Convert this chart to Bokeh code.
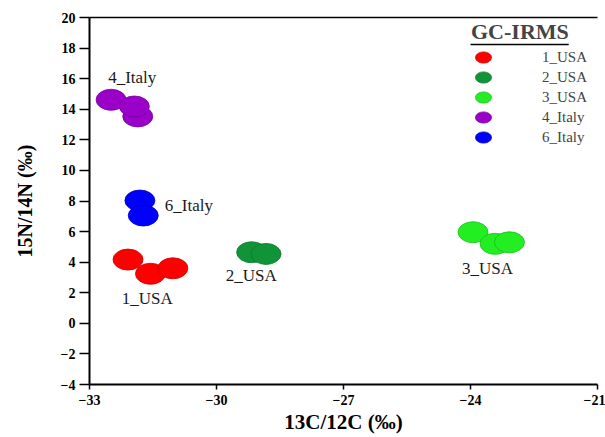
from bokeh.plotting import figure
from bokeh.models import (ColumnDataSource, Legend, LegendItem, LinearAxis,
                          FixedTicker, BoxAnnotation)
from bokeh.core.properties import value
from bokeh.embed import file_html
from bokeh.resources import INLINE

# ---------------- data ----------------
groups = ["1_USA", "2_USA", "3_USA", "4_Italy", "6_Italy"]
usa1_x = [-32.09, -31.56, -31.03]
usa1_y = [4.17, 3.24, 3.60]
usa2_x = [-29.17, -28.83]
usa2_y = [4.65, 4.54]
usa3_x = [-23.94, -23.42, -23.08]
usa3_y = [5.96, 5.20, 5.30]
italy4_x = [-32.49, -31.86, -31.94]
italy4_y = [14.62, 13.53, 14.18]
italy6_x = [-31.81, -31.73]
italy6_y = [8.03, 7.05]

label_x = [-32.24, -29.78, -24.20, -32.56, -31.22]
label_y = [1.62, 3.13, 3.58, 16.08, 7.70]

x_ticks = [-33, -30, -27, -24, -21]
y_ticks = [-4, -2, 0, 2, 4, 6, 8, 10, 12, 14, 16, 18, 20]

fills = ["#ff0000", "#119438", "#22ee22", "#9a00c8", "#0000ff"]
lines = ["#cc0000", "#0b7a2b", "#18c018", "#7400a0", "#0000c0"]

SERIF = "Liberation Serif"

p = figure(width=605, height=437, x_range=(-33, -21), y_range=(-4, 20),
           output_backend="svg", toolbar_location=None,
           min_border_left=89, min_border_right=8, min_border_top=17,
           min_border_bottom=53)
p.outline_line_color = None
p.xgrid.grid_line_color = None
p.ygrid.grid_line_color = None
p.background_fill_color = "white"

# axes
p.xaxis.ticker = FixedTicker(ticks=x_ticks)
p.yaxis.ticker = FixedTicker(ticks=y_ticks)
for ax in (p.xaxis[0], p.yaxis[0]):
    ax.axis_line_width = 2
    ax.major_tick_line_width = 1.5
    ax.minor_tick_line_color = None
    ax.major_tick_in = 0
    ax.major_label_text_font = SERIF
    ax.major_label_text_font_style = "bold"
    ax.major_label_text_font_size = "14px"
    ax.axis_label_text_font = SERIF
    ax.axis_label_text_font_style = "bold"
    ax.axis_label_text_color = "black"
    ax.major_label_text_color = "black"

p.xaxis.axis_label = "13C/12C (‰)"
p.xaxis.axis_label_text_font_size = "21px"
p.xaxis.major_tick_out = 5
p.xaxis.major_label_standoff = 5
p.xaxis.axis_label_standoff = 2

p.yaxis.axis_label = "15N/14N (‰)"
p.yaxis.axis_label_text_font_size = "20px"
p.yaxis.major_tick_out = 10
p.yaxis.major_label_standoff = 4
p.yaxis.axis_label_standoff = 22

top_axis = LinearAxis(ticker=FixedTicker(ticks=[]), axis_line_width=1.5,
                      major_tick_line_color=None, minor_tick_line_color=None,
                      major_label_text_font_size="0px")
p.add_layout(top_axis, "above")

# points
series = [(usa1_x, usa1_y), (usa2_x, usa2_y), (usa3_x, usa3_y),
          (italy4_x, italy4_y), (italy6_x, italy6_y)]
items = []
for g, (xs, ys), fc, lc in zip(groups, series, fills, lines):
    src = ColumnDataSource(dict(x=xs, y=ys))
    r = p.ellipse(x="x", y="y", width=30, height=21,
                  width_units="screen", height_units="screen",
                  fill_color=fc, line_color=lc, line_width=0.8, source=src)
    items.append(LegendItem(label=g, renderers=[r]))

# group labels
p.text(x=label_x, y=label_y, text=groups, text_font=value(SERIF),
       text_font_size="17px", text_baseline="middle", text_align="left",
       text_color="#1a1a1a")

legend = Legend(items=items, location="top_right", title="GC-IRMS",
                title_text_font=SERIF, title_text_font_style="bold",
                title_text_font_size="22px", title_standoff=2,
                label_text_font=SERIF, label_text_font_size="15px",
                glyph_width=24, glyph_height=20, label_height=20,
                label_width=53, label_standoff=47, spacing=0, padding=2,
                margin=2, border_line_color=None, background_fill_alpha=0)
p.add_layout(legend)

# underline of legend title
p.add_layout(BoxAnnotation(left=-24.0, right=-21.68, bottom=18.18, top=18.28,
                           fill_color="black", fill_alpha=1, line_color=None))

open("out.html", "w").write(file_html(p, INLINE))
